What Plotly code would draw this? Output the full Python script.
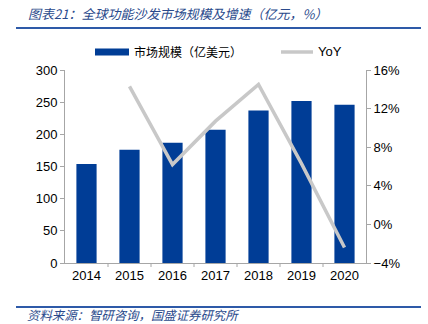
import plotly.graph_objects as go

years = ["2014", "2015", "2016", "2017", "2018", "2019", "2020"]
market = [154, 176, 187, 207, 237, 252, 246]
yoy_years = ["2015", "2016", "2017", "2018", "2019", "2020"]
yoy = [14.3, 6.2, 10.7, 14.5, 6.3, -2.4]

BLUE = "#003d96"
GRAY = "#c8c8c8"
AX = "#a6a6a6"
TXT = "#2a4a8c"
FONT = "Liberation Sans, Arial, sans-serif"
CJK = "Noto Sans CJK SC"

fig = go.Figure()
fig.add_trace(go.Bar(x=years, y=market, marker=dict(color=BLUE, line=dict(width=0)),
                     width=0.47, name="市场规模（亿美元）", yaxis="y"))
fig.add_trace(go.Scatter(x=yoy_years, y=yoy, mode="lines", line=dict(color=GRAY, width=3.5),
                         name="YoY", yaxis="y2"))

W, H = 428, 324
ml, mr, mt, mb = 65, 62, 70, 61

def px(x):
    return (x - ml) / (W - ml - mr)

def py(y):
    return (H - mb - y) / (H - mt - mb)

fig.update_layout(
    width=W, height=H, margin=dict(l=ml, r=mr, t=mt, b=mb),
    paper_bgcolor="white", plot_bgcolor="white", showlegend=False,
    font=dict(family=FONT, size=13, color="#000000"),
    xaxis=dict(type="category", showgrid=False, showline=True, linecolor=AX, linewidth=1,
               ticks="", tickfont=dict(size=13), range=[-0.5, 6.5]),
    yaxis=dict(range=[0, 300], dtick=50, showgrid=False, showline=True, linecolor=AX,
               linewidth=1, ticks="outside", ticklen=4, tickcolor=AX, zeroline=False,
               tickfont=dict(size=13)),
    yaxis2=dict(range=[-4, 16], dtick=4, overlaying="y", side="right", showgrid=False,
                showline=True, linecolor=AX, linewidth=1, ticks="outside", ticklen=4,
                tickcolor=AX, zeroline=False, ticksuffix="%", tickfont=dict(size=13)),
)

# category separator ticks on x axis
shapes = []
for i in range(1, 7):
    shapes.append(dict(type="line", xref="x", yref="paper", x0=i - 0.5, x1=i - 0.5,
                       y0=0, y1=py(H - mb + 4), line=dict(color=AX, width=1)))
# header / footer rules
shapes.append(dict(type="line", xref="paper", yref="paper", x0=px(16), x1=px(421),
                   y0=py(28), y1=py(28), line=dict(color="#2e5aa8", width=2)))
shapes.append(dict(type="line", xref="paper", yref="paper", x0=px(16), x1=px(421),
                   y0=py(307), y1=py(307), line=dict(color="#2e5aa8", width=2)))
# legend symbols
shapes.append(dict(type="rect", xref="paper", yref="paper", x0=px(95), x1=px(129),
                   y0=py(48.5), y1=py(55.5), fillcolor=BLUE, line=dict(width=0)))
shapes.append(dict(type="line", xref="paper", yref="paper", x0=px(281), x1=px(313),
                   y0=py(52), y1=py(52), line=dict(color=GRAY, width=3.5)))
fig.update_layout(shapes=shapes)

ann = [
    dict(text="<i>图表21：全球功能沙发市场规模及增速（亿元，%）</i>", x=px(26), y=py(13),
         font=dict(family=CJK, size=13, color=TXT)),
    dict(text="<i>资料来源：智研咨询，国盛证券研究所</i>", x=px(26), y=py(315),
         font=dict(family=CJK, size=12.4, color=TXT), borderpad=0),
    dict(text="市场规模（亿美元）", x=px(132), y=py(52),
         font=dict(family=CJK, size=12, color="#000000")),
    dict(text="YoY", x=px(316), y=py(52), font=dict(family=FONT, size=13, color="#000000")),
]
for a in ann:
    a.update(xref="paper", yref="paper", xanchor="left", yanchor="middle", showarrow=False)
fig.update_layout(annotations=ann)

fig.write_html("out.html")
